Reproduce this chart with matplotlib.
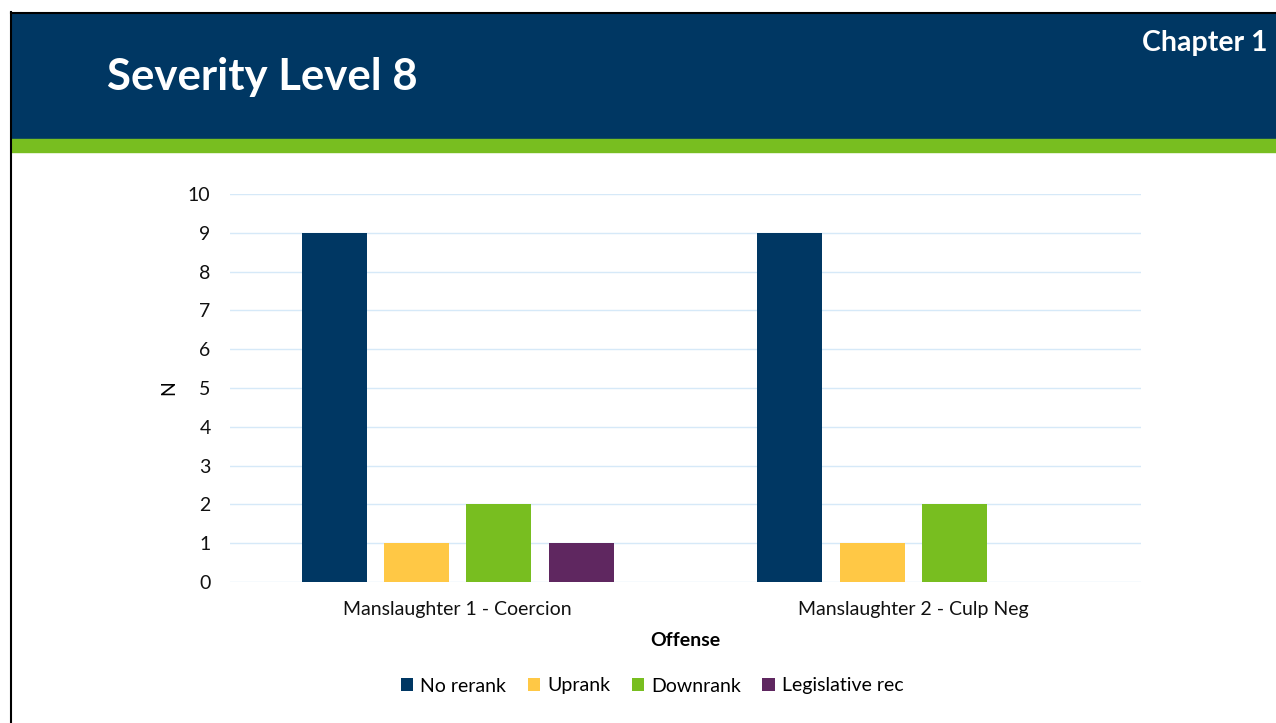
import numpy as np
import matplotlib.pyplot as plt
from matplotlib.patches import Rectangle

# Datos
offenses = ['Manslaughter 1 - Coercion', 'Manslaughter 2 - Culp Neg']
series_names = ['No rerank', 'Uprank', 'Downrank', 'Legislative rec']
no_rerank = [9, 9]
uprank = [1, 1]
downrank = [2, 2]
legislative = [1, 0]
colors = ['#003763', '#FFC845', '#78BE20', '#5F2760']

W, H = 1276, 723
fig = plt.figure(figsize=(W / 100, H / 100), dpi=100)
plt.rcParams['font.family'] = ['Lato', 'DejaVu Sans']

# Encabezado
fig.patches.append(Rectangle((11 / W, 1 - 139 / H), 1, 126 / H, transform=fig.transFigure,
                             color='#003763', zorder=0))
fig.patches.append(Rectangle((11 / W, 1 - 152 / H), 1, 13 / H, transform=fig.transFigure,
                             color='#78BE20', zorder=0))
# Bordes negros
fig.add_artist(plt.Line2D([10.5 / W, 10.5 / W], [0, 1 - 12 / H], color='black', lw=1.5,
                          transform=fig.transFigure))
fig.add_artist(plt.Line2D([10.5 / W, 1], [1 - 12.5 / H, 1 - 12.5 / H], color='black', lw=1.5,
                          transform=fig.transFigure))

fig.text(107 / W, 1 - 77 / H, 'Severity Level 8', color='white', fontsize=31.5,
         fontweight='bold', va='center', ha='left')
fig.text(1268 / W, 1 - 43 / H, 'Chapter 1', color='white', fontsize=20.5,
         fontweight='bold', va='center', ha='right')

# Gráfico
ax = fig.add_axes([230 / W, 1 - 582 / H, 911 / W, 388 / H])
x = np.arange(len(offenses))
width = 0.1427
step = 0.181
data = [no_rerank, uprank, downrank, legislative]
for i, (vals, name) in enumerate(zip(data, series_names)):
    ax.bar(x + (i - 1.5) * step, vals, width, color=colors[i], label=name, zorder=3)

ax.set_xlim(-0.5, 1.5)
ax.set_ylim(0, 10)
ax.set_yticks(range(0, 11))
ax.set_xticks(x)
ax.set_xticklabels(offenses)
ax.grid(axis='y', color='#D6E9F8', linewidth=1, zorder=0)
for s in ax.spines.values():
    s.set_visible(False)
ax.tick_params(axis='both', length=0, labelsize=14, colors='#111111')
ax.tick_params(axis='y', pad=14)
ax.tick_params(axis='x', pad=14)
ax.set_ylabel('N', fontsize=14, labelpad=8)
ax.set_xlabel('Offense', fontsize=14, fontweight='bold', labelpad=10)

fig.legend(loc='center', bbox_to_anchor=(652 / W, 1 - 686 / H), ncol=4, frameon=False,
           fontsize=14, handlelength=0.65, handleheight=0.65, handletextpad=0.35,
           columnspacing=1.1)

fig.savefig('out.png', dpi=100)
